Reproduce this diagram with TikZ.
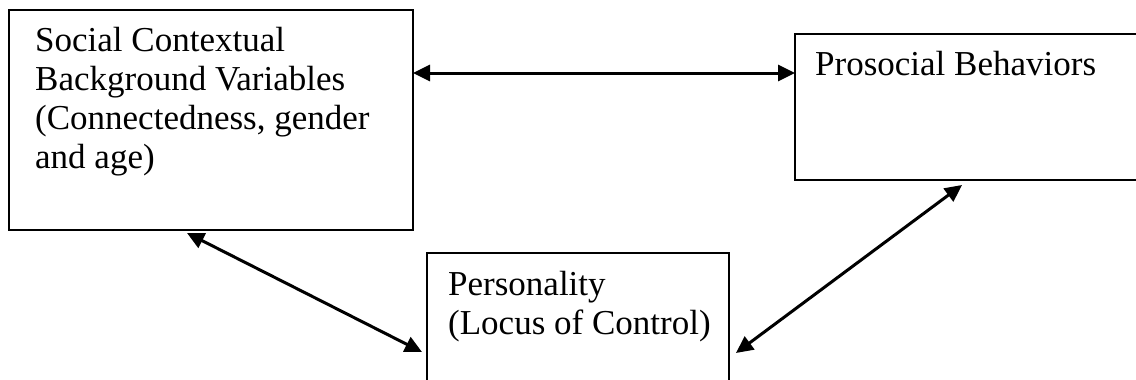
\documentclass[tikz,border=0pt]{standalone}
\usepackage{fontspec}
\setmainfont{Liberation Serif}
\usetikzlibrary{arrows.meta,calc}
\tikzset{
  box/.style={draw, line width=2.5pt, outer sep=0pt, inner sep=0pt, rectangle},
  lbl/.style={anchor=base west, align=left, inner sep=0pt, font=\fontsize{35}{39}\selectfont},
  biarrow/.style={line width=3pt, {Triangle[length=17pt,width=16pt]}-{Triangle[length=17pt,width=16pt]}},
}
\begin{document}
\begin{tikzpicture}[x=1pt,y=-1pt]
\clip (0,0) rectangle (1136,380);
\fill[white] (0,0) rectangle (1136,380);
% boxes
\node[box, minimum width=404pt, minimum height=220pt] (s) at (211,120) {};
\node[box, minimum width=355pt, minimum height=146pt] (p) at (972.5,107) {};
\node[box, minimum width=302pt, minimum height=147pt] (c) at (578,326.5) {};
% texts (anchored at the baseline of their last line)
\node[lbl] (st) at (35,168) {Social Contextual\\Background Variables\\(Connectedness, gender\\and age)};
\node[lbl] (pt) at (815,75) {Prosocial Behaviors};
\node[lbl] (ct) at (448,334) {Personality\\(Locus of Control)};
% connectors
\draw[biarrow] ($(s.north east)+(0,63)$) -- ($(p.north west)+(0,39)$);
\draw[biarrow] ($(s.south west)+(178,3)$) -- ($(c.north west)+(-5,99)$);
\draw[biarrow] ($(c.north east)+(7,100)$) -- ($(p.south west)+(167,5)$);
\end{tikzpicture}
\end{document}
